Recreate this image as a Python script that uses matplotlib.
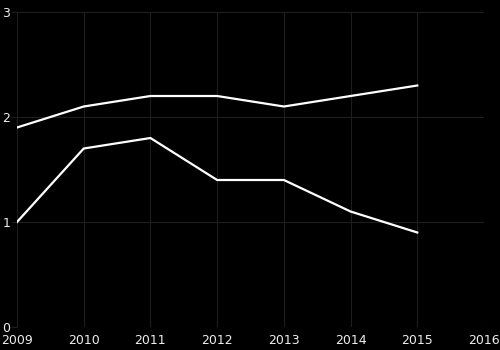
import matplotlib
matplotlib.use("Agg")
import matplotlib.pyplot as plt

years = [2009, 2010, 2011, 2012, 2013, 2014, 2015]
series_a = [1.9, 2.1, 2.2, 2.2, 2.1, 2.2, 2.3]
series_b = [1.0, 1.7, 1.8, 1.4, 1.4, 1.1, 0.9]
x_ticks = [2009, 2010, 2011, 2012, 2013, 2014, 2015, 2016]
y_ticks = [0, 1, 2, 3]

fig = plt.figure(figsize=(5, 3.5), dpi=100, facecolor='black')
ax = fig.add_axes([0.034, 0.0657, 0.934, 0.9])
ax.set_facecolor('black')

ax.plot(years, series_a, color='white', linewidth=1.6)
ax.plot(years, series_b, color='white', linewidth=1.6)

ax.set_xlim(2009, 2016)
ax.set_ylim(0, 3)
ax.set_xticks(x_ticks)
ax.set_yticks(y_ticks)
ax.grid(True, color='#1e1e1e', linewidth=0.8)
for s in ax.spines.values() :
    s.set_visible(False)
ax.tick_params(axis='x', length=0, pad=5, colors='#eeeeee', labelsize=9)
ax.tick_params(axis='y', length=4, pad=1, color='#1e1e1e', labelcolor='#eeeeee', labelsize=9)
ax.set_axisbelow(True)

fig.savefig('out.png', facecolor='black')
